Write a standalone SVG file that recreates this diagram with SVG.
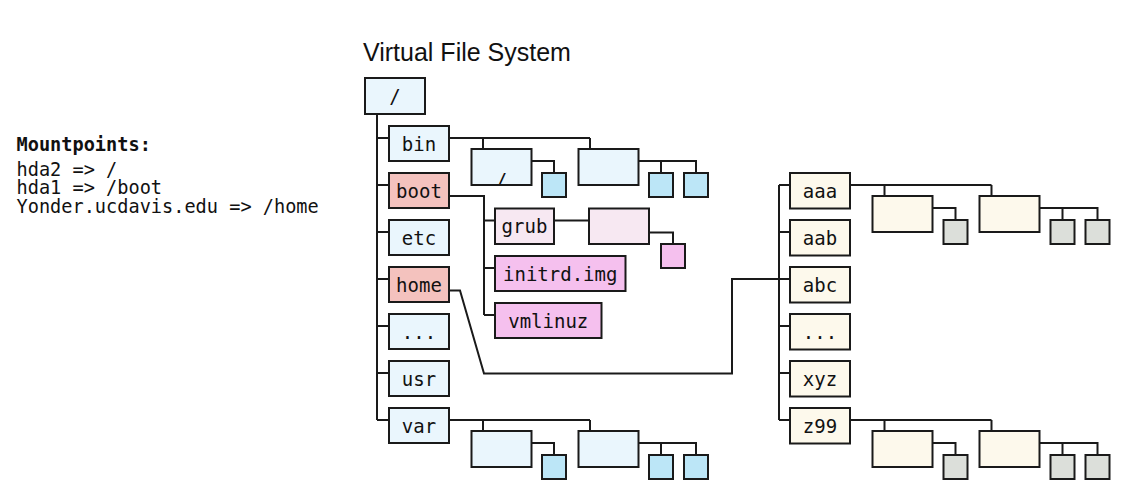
<svg xmlns="http://www.w3.org/2000/svg" width="1128" height="502" viewBox="0 0 1128 502">
<style>
  .n { stroke:#1a1a1a; stroke-width:2; }
  .blue { fill:#eaf6fd; }
  .cyan { fill:#bce6f7; }
  .rose { fill:#f4c2be; }
  .lpink { fill:#f7e8f2; }
  .mag { fill:#f5c0ee; }
  .cream { fill:#fdf9ec; }
  .gray { fill:#dcdfda; }
  .t { font-family:"DejaVu Sans Mono", monospace; font-size:19px; fill:#111; text-anchor:middle; }
  .m { font-family:"DejaVu Sans Mono", monospace; font-size:18.6px; fill:#111; }
  .title { font-family:"Liberation Sans", Arial, sans-serif; font-size:25px; fill:#111; }
  .c { fill:none; stroke:#1a1a1a; stroke-width:2; }
</style>
<defs>
  <clipPath id="clipBinSub"><rect x="472.5" y="150" width="58" height="34"/></clipPath>
</defs>
<rect width="1128" height="502" fill="#ffffff"/>

<g id="title"><text class="title" x="363" y="60.5">Virtual File System</text></g>

<g id="mountpoints">
  <text class="m" x="16.5" y="150.7" font-weight="bold">Mountpoints:</text>
  <text class="m" x="16.5" y="175.5">hda2 =&gt; /</text>
  <text class="m" x="16.5" y="194">hda1 =&gt; /boot</text>
  <text class="m" x="16.5" y="212.5">Yonder.ucdavis.edu =&gt; /home</text>
</g>

<g id="connectors" class="c">
  <path d="M377,114V420 M377,138H389 M377,185H389 M377,232H389 M377,279H389 M377,326H389 M377,373H389 M377,420H389"/>
  <path d="M449,138H590 M483,138V149 M590,138V149 M531.5,161H554V173 M638.5,161H696V173 M661,161V173"/>
  <path d="M449,420H590 M483,420V431 M590,420V431 M531.5,443H554V455 M638.5,443H696V455 M661,443V455"/>
  <path d="M449,196H484V315 M484,220.5H495 M484,268H495 M484,315H495"/>
  <path d="M554,220.5H589 M649,232.5H673V244"/>
  <path d="M449,290.5H460L484,373.5H732V279H779"/>
  <path d="M779,185V420 M779,185H790 M779,232H790 M779,279H790 M779,326H790 M779,373H790 M779,420H790"/>
  <path d="M850,185H991.5 M884.5,185V196 M991.5,185V196 M932.5,208H955.5V220 M1039.5,208H1097.5V220 M1062.5,208V220"/>
  <path d="M850,420H991.5 M884.5,420V431 M991.5,420V431 M932.5,443H955.5V455 M1039.5,443H1097.5V455 M1062.5,443V455"/>
</g>

<g id="root"><rect class="n blue" x="365" y="78" width="60" height="36"/><text class="t" x="395" y="102.5">/</text></g>
<g id="bin"><rect class="n blue" x="389" y="126" width="60" height="35"/><text class="t" x="419" y="150.5">bin</text></g>
<g id="boot"><rect class="n rose" x="389" y="173" width="60" height="35"/><text class="t" x="419" y="197.5">boot</text></g>
<g id="etc"><rect class="n blue" x="389" y="220" width="60" height="35"/><text class="t" x="419" y="244.5">etc</text></g>
<g id="home"><rect class="n rose" x="389" y="267" width="60" height="35"/><text class="t" x="419" y="291.5">home</text></g>
<g id="more-left"><rect class="n blue" x="389" y="314" width="60" height="35"/><text class="t" x="419" y="338.5">...</text></g>
<g id="usr"><rect class="n blue" x="389" y="361" width="60" height="35"/><text class="t" x="419" y="385.5">usr</text></g>
<g id="var"><rect class="n blue" x="389" y="408" width="60" height="35"/><text class="t" x="419" y="432.5">var</text></g>

<g id="bin-sub1"><rect class="n blue" x="471.5" y="149" width="60" height="36"/><text class="t" x="501.5" y="187" clip-path="url(#clipBinSub)">/</text></g>
<g id="bin-sub1-file"><rect class="n cyan" x="542" y="173" width="24" height="24"/></g>
<g id="bin-sub2"><rect class="n blue" x="578.5" y="149" width="60" height="36"/></g>
<g id="bin-sub2-file1"><rect class="n cyan" x="649" y="173" width="24" height="24"/></g>
<g id="bin-sub2-file2"><rect class="n cyan" x="684" y="173" width="24" height="24"/></g>

<g id="var-sub1"><rect class="n blue" x="471.5" y="431" width="60" height="36"/></g>
<g id="var-sub1-file"><rect class="n cyan" x="542" y="455" width="24" height="24"/></g>
<g id="var-sub2"><rect class="n blue" x="578.5" y="431" width="60" height="36"/></g>
<g id="var-sub2-file1"><rect class="n cyan" x="649" y="455" width="24" height="24"/></g>
<g id="var-sub2-file2"><rect class="n cyan" x="684" y="455" width="24" height="24"/></g>

<g id="grub"><rect class="n lpink" x="495" y="208.5" width="59" height="35.5"/><text class="t" x="524.5" y="233">grub</text></g>
<g id="grub-sub"><rect class="n lpink" x="589" y="208.5" width="60" height="35.5"/></g>
<g id="grub-file"><rect class="n mag" x="661" y="244" width="24" height="24"/></g>
<g id="initrd"><rect class="n mag" x="495" y="256" width="130.5" height="35"/><text class="t" x="560.25" y="280.5">initrd.img</text></g>
<g id="vmlinuz"><rect class="n mag" x="495" y="303" width="106.5" height="35"/><text class="t" x="548.25" y="327.5">vmlinuz</text></g>

<g id="aaa"><rect class="n cream" x="790" y="173" width="60" height="35.5"/><text class="t" x="820" y="197.5">aaa</text></g>
<g id="aab"><rect class="n cream" x="790" y="220" width="60" height="35.5"/><text class="t" x="820" y="244.5">aab</text></g>
<g id="abc"><rect class="n cream" x="790" y="267" width="60" height="35.5"/><text class="t" x="820" y="291.5">abc</text></g>
<g id="more-right"><rect class="n cream" x="790" y="314" width="60" height="35.5"/><text class="t" x="820" y="338.5">...</text></g>
<g id="xyz"><rect class="n cream" x="790" y="361" width="60" height="35.5"/><text class="t" x="820" y="385.5">xyz</text></g>
<g id="z99"><rect class="n cream" x="790" y="408" width="60" height="35.5"/><text class="t" x="820" y="432.5">z99</text></g>

<g id="aaa-sub1"><rect class="n cream" x="872.5" y="196" width="60" height="36"/></g>
<g id="aaa-sub1-file"><rect class="n gray" x="943.5" y="220" width="24" height="24"/></g>
<g id="aaa-sub2"><rect class="n cream" x="979.5" y="196" width="60" height="36"/></g>
<g id="aaa-sub2-file1"><rect class="n gray" x="1050.5" y="220" width="24" height="24"/></g>
<g id="aaa-sub2-file2"><rect class="n gray" x="1085.5" y="220" width="24" height="24"/></g>

<g id="z99-sub1"><rect class="n cream" x="872.5" y="431" width="60" height="36"/></g>
<g id="z99-sub1-file"><rect class="n gray" x="943.5" y="455" width="24" height="24"/></g>
<g id="z99-sub2"><rect class="n cream" x="979.5" y="431" width="60" height="36"/></g>
<g id="z99-sub2-file1"><rect class="n gray" x="1050.5" y="455" width="24" height="24"/></g>
<g id="z99-sub2-file2"><rect class="n gray" x="1085.5" y="455" width="24" height="24"/></g>
</svg>
